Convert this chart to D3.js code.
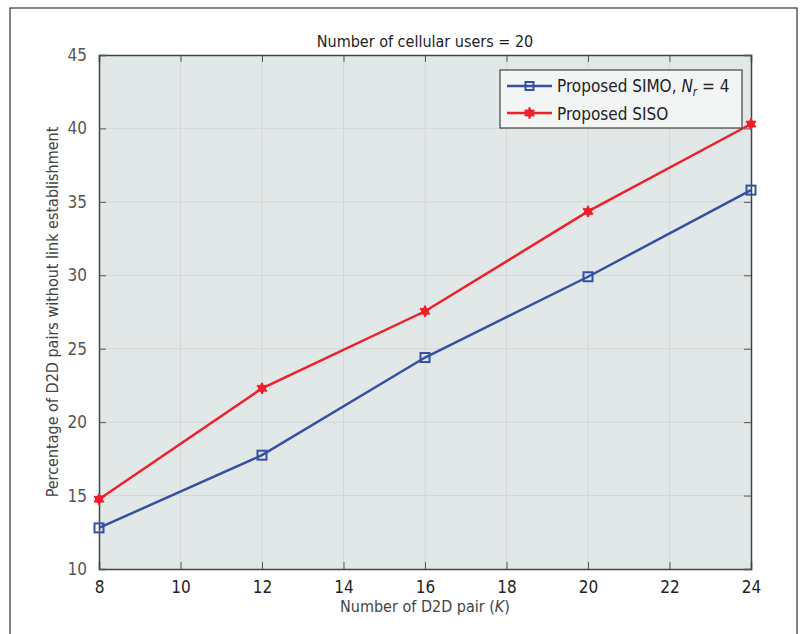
<!DOCTYPE html>
<html>
<head>
<meta charset="utf-8">
<script src="https://cdn.jsdelivr.net/npm/d3@7"></script>
<style>
  body { margin: 0; background: #fff; }
  svg text { font-family: "Liberation Sans Narrow", "DejaVu Sans Condensed", "Roboto", sans-serif; }
</style>
</head>
<body>
<div id="chart"></div>
<script>
var pairs = [8, 12, 16, 20, 24];
var simo = [12.8, 17.75, 24.4, 29.9, 35.8];
var siso = [14.75, 22.3, 27.55, 34.35, 40.3];
var xTicks = [8, 10, 12, 14, 16, 18, 20, 22, 24];
var yTicks = [10, 15, 20, 25, 30, 35, 40, 45];

var width = 800, height = 634;
var plotL = 99, plotR = 751, plotT = 55, plotB = 569;

var svg = d3.select("#chart").append("svg")
  .attr("width", width)
  .attr("height", height);

// outer frame
svg.append("rect")
  .attr("x", 10).attr("y", 8)
  .attr("width", 787).attr("height", 640)
  .attr("fill", "none").attr("stroke", "#333").attr("stroke-width", 1.2);

var x = d3.scaleLinear().domain([8, 24]).range([plotL, plotR]);
var y = d3.scaleLinear().domain([10, 45]).range([plotB, plotT]);

svg.append("rect")
  .attr("x", plotL).attr("y", plotT)
  .attr("width", plotR - plotL).attr("height", plotB - plotT)
  .attr("fill", "#e1e8e7");

// grid
svg.append("g").selectAll("line")
  .data(xTicks.slice(1, -1)).enter().append("line")
  .attr("x1", d => x(d)).attr("x2", d => x(d))
  .attr("y1", plotT).attr("y2", plotB)
  .attr("stroke", "#d3d7d7").attr("stroke-width", 1);
svg.append("g").selectAll("line")
  .data(yTicks.slice(1, -1)).enter().append("line")
  .attr("x1", plotL).attr("x2", plotR)
  .attr("y1", d => y(d)).attr("y2", d => y(d))
  .attr("stroke", "#d3d7d7").attr("stroke-width", 1);

// axes, ticks pointing inward
var xAxis = svg.append("g")
  .attr("transform", `translate(0, ${plotB})`)
  .call(d3.axisBottom(x).tickValues(xTicks).tickSize(-7).tickPadding(12));
var xAxisTop = svg.append("g")
  .attr("transform", `translate(0, ${plotT})`)
  .call(d3.axisTop(x).tickValues(xTicks).tickSize(-7).tickFormat(""));
var yAxis = svg.append("g")
  .attr("transform", `translate(${plotL}, 0)`)
  .call(d3.axisLeft(y).tickValues(yTicks).tickSize(-7).tickPadding(12));
var yAxisRight = svg.append("g")
  .attr("transform", `translate(${plotR}, 0)`)
  .call(d3.axisRight(y).tickValues(yTicks).tickSize(-7).tickFormat(""));

[xAxis, xAxisTop, yAxis, yAxisRight].forEach(function(a) {
  a.select(".domain").attr("stroke", "#444").attr("stroke-width", 1.5);
  a.selectAll(".tick line").attr("stroke", "#555");
});
xAxis.selectAll("text").attr("font-size", 17).attr("fill", "#222");
yAxis.selectAll("text").attr("font-size", 17).attr("fill", "#555");

// titles
svg.append("text")
  .attr("x", (plotL + plotR) / 2).attr("y", 47)
  .attr("text-anchor", "middle").attr("font-size", 16).attr("fill", "#222")
  .text("Number of cellular users = 20");

var xl = svg.append("text")
  .attr("x", (plotL + plotR) / 2).attr("y", 612)
  .attr("text-anchor", "middle").attr("font-size", 16).attr("fill", "#444");
xl.append("tspan").text("Number of D2D pair (");
xl.append("tspan").attr("font-style", "italic").text("K");
xl.append("tspan").text(")");

svg.append("text")
  .attr("transform", `translate(58, ${(plotT + plotB) / 2}) rotate(-90)`)
  .attr("text-anchor", "middle").attr("font-size", 16).attr("fill", "#444")
  .text("Percentage of D2D pairs without link establishment");

// lines
var blue = "#3450a4", red = "#f0202a";
var line = d3.line().x(d => x(d[0])).y(d => y(d[1]));
var simoPts = pairs.map((p, i) => [p, simo[i]]);
var sisoPts = pairs.map((p, i) => [p, siso[i]]);

svg.append("path").attr("d", line(simoPts))
  .attr("fill", "none").attr("stroke", blue).attr("stroke-width", 2.5);
svg.append("path").attr("d", line(sisoPts))
  .attr("fill", "none").attr("stroke", red).attr("stroke-width", 2.5);

svg.append("g").selectAll("rect")
  .data(simoPts).enter().append("rect")
  .attr("x", d => x(d[0]) - 4.5).attr("y", d => y(d[1]) - 4.5)
  .attr("width", 9).attr("height", 9)
  .attr("fill", "none").attr("stroke", blue).attr("stroke-width", 2);

var star = d3.symbol().type(d3.symbolAsterisk).size(90);
svg.append("g").selectAll("g")
  .data(sisoPts).enter().append("g")
  .attr("transform", d => `translate(${x(d[0])}, ${y(d[1])})`)
  .each(function() {
    var g = d3.select(this);
    g.append("circle").attr("r", 4).attr("fill", red);
    g.append("path").attr("d", star).attr("stroke", red).attr("stroke-width", 2.2);
  });

// legend
var lg = svg.append("g").attr("transform", "translate(500, 70)");
lg.append("rect").attr("width", 242).attr("height", 58)
  .attr("fill", "#f3f5f5").attr("stroke", "#444").attr("stroke-width", 1.2);
lg.append("line").attr("x1", 7).attr("x2", 52).attr("y1", 16).attr("y2", 16)
  .attr("stroke", blue).attr("stroke-width", 2.5);
lg.append("rect").attr("x", 25.5).attr("y", 12).attr("width", 8).attr("height", 8)
  .attr("fill", "none").attr("stroke", blue).attr("stroke-width", 2);
var t1 = lg.append("text").attr("x", 57).attr("y", 22).attr("font-size", 17).attr("fill", "#222");
t1.append("tspan").text("Proposed SIMO, ");
t1.append("tspan").attr("font-style", "italic").text("N");
t1.append("tspan").attr("font-style", "italic").attr("font-size", 12).attr("dy", 4).text("r");
t1.append("tspan").attr("dy", -4).text(" = 4");

lg.append("line").attr("x1", 7).attr("x2", 52).attr("y1", 43).attr("y2", 43)
  .attr("stroke", red).attr("stroke-width", 2.5);
var lgStar = lg.append("g").attr("transform", "translate(29.5, 43)");
lgStar.append("circle").attr("r", 4).attr("fill", red);
lgStar.append("path").attr("d", star).attr("stroke", red).attr("stroke-width", 2.2);
lg.append("text").attr("x", 57).attr("y", 50).attr("font-size", 17).attr("fill", "#222")
  .text("Proposed SISO");
</script>
</body>
</html>
